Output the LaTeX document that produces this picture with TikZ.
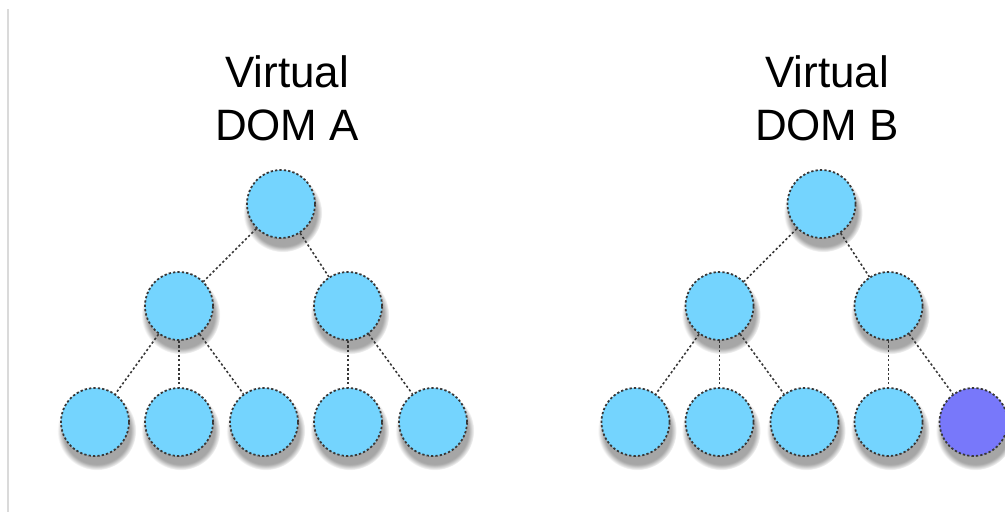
\documentclass[tikz,border=0pt]{standalone}
\usepackage{fontspec}
\setmainfont{Liberation Sans}
\usepackage{tikz}
\usetikzlibrary{positioning, shadows, calc}

\definecolor{nodeblue}{RGB}{116,212,254}
\definecolor{nodepurple}{RGB}{120,120,250}
\definecolor{edgegray}{RGB}{55,55,55}
\definecolor{rulegray}{RGB}{218,218,218}

\begin{document}
\begin{tikzpicture}[
    % GLOBAL CFG
    font=\fontsize{25}{30}\selectfont,
    % Styles
    vnode/.style={% For the tree nodes
        circle,
        draw=edgegray,
        fill=nodeblue,
        line width=1pt,
        dash pattern=on 1.3pt off 1.2pt,
        minimum size=1.36cm,
        inner sep=0pt,
        circular drop shadow={shadow xshift=.3mm, shadow yshift=-1.5mm,
            shadow scale=1.16, opacity=.7},
        },
    changed/.style={% For the node that differs
        fill=nodepurple,
        },
    title/.style={% For the tree names
        align=center,
        anchor=base,
        },
    link/.style={% For the dotted edges
        draw=edgegray,
        line width=.9pt,
        dash pattern=on 1.3pt off 1.3pt,
        },
    ]

    % Fix the page size
    \useasboundingbox (0,0) rectangle (20.1,-10.24);

    % Side rule
    \draw [rulegray, line width=1.5pt] (0.16,-0.18) coordinate (r1) -- (0.16,-10.24) coordinate (r2);

    % Titles (base is the last line)
    \node [title] (tA) at (5.74,-2.80) {Virtual\\DOM A};
    \node [title] (tB) at (16.54,-2.80) {Virtual\\DOM B};

    % Tree A named rootA, midA#, leafA#
    \node [vnode] (rootA) at (5.62,-4.08) {};
    \node [vnode] (midA1) at (3.58,-6.12) {};
    \node [vnode] (midA2) at (6.96,-6.12) {};
    \node [vnode] (leafA1) at (1.90,-8.44) {};
    \node [vnode] (leafA2) at (3.58,-8.44) {};
    \node [vnode] (leafA3) at (5.28,-8.44) {};
    \node [vnode] (leafA4) at (6.96,-8.44) {};
    \node [vnode] (leafA5) at (8.66,-8.44) {};

    % Tree B named rootB, midB#, leafB#
    \node [vnode] (rootB) at (16.43,-4.08) {};
    \node [vnode] (midB1) at (14.39,-6.12) {};
    \node [vnode] (midB2) at (17.77,-6.12) {};
    \node [vnode] (leafB1) at (12.71,-8.44) {};
    \node [vnode] (leafB2) at (14.39,-8.44) {};
    \node [vnode] (leafB3) at (16.09,-8.44) {};
    \node [vnode] (leafB4) at (17.77,-8.44) {};
    \node [vnode, changed] (leafB5) at (19.47,-8.44) {};

    % Edges
    \foreach \t in {A,B}{
        \draw [link] (root\t) -- (mid\t1);
        \draw [link] (root\t) -- (mid\t2);
        \draw [link] (mid\t1) -- (leaf\t1);
        \draw [link] (mid\t1) -- (leaf\t2);
        \draw [link] (mid\t1) -- (leaf\t3);
        \draw [link] (mid\t2) -- (leaf\t4);
        \draw [link] (mid\t2) -- (leaf\t5);
    }
\end{tikzpicture}
\end{document}
